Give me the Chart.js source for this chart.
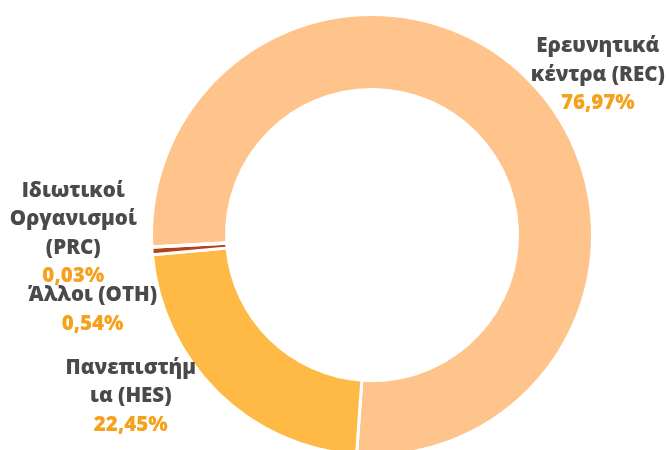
<!DOCTYPE html>
<html>
<head>
<meta charset="utf-8">
<script src="https://cdn.jsdelivr.net/npm/chart.js@4"></script>
<style>
  html, body { margin:0; padding:0; background:#fff; overflow:hidden; }
  #wrap { width:669px; height:470px; }
</style>
</head>
<body>
<div id="wrap"><canvas id="chart"></canvas></div>
<script>
// data
const categories = ['Ερευνητικά κέντρα (REC)', 'Πανεπιστήμια (HES)', 'Άλλοι (OTH)', 'Ιδιωτικοί Οργανισμοί (PRC)'];
const labelLines = [
  ['Ερευνητικά', 'κέντρα (REC)'],
  ['Πανεπιστήμ', 'ια (HES)'],
  ['Άλλοι (OTH)'],
  ['Ιδιωτικοί', 'Οργανισμοί', '(PRC)']
];
const shares = [76.97, 22.45, 0.54, 0.03];
const shareText = ['76,97%', '22,45%', '0,54%', '0,03%'];
const colors = ['#FFC48B', '#FFBA45', '#B3421F', '#E07B39'];

// label nudges (px) from the default anchor
const nudges = [[-4, 0], [-16, -2], [13, 58], [-7, -14]];

const outerLabels = {
  id: 'outerLabels',
  afterDatasetsDraw(chart){
    const ctx = chart.ctx;
    const meta = chart.getDatasetMeta(0);
    const lh = 28.5;
    ctx.save();
    ctx.font = '800 20.5px "Open Sans"';
    ctx.textAlign = 'center';
    ctx.textBaseline = 'middle';
    meta.data.forEach((arc, i) => {
      const p = arc.getProps(['x','y','startAngle','endAngle','outerRadius'], true);
      const mid = (p.startAngle + p.endAngle) / 2;
      const r = p.outerRadius + 8;
      const ax = p.x + Math.cos(mid) * r;
      const ay = p.y + Math.sin(mid) * r;
      const lines = labelLines[i].concat([shareText[i]]);
      const w = Math.max(...lines.map(t => ctx.measureText(t).width));
      const right = Math.cos(mid) >= 0;
      const cx = (right ? ax + w/2 : ax - w/2) + nudges[i][0];
      const top = ay - (lines.length - 1) * lh / 2 + nudges[i][1];
      lines.forEach((t, k) => {
        ctx.fillStyle = k === lines.length - 1 ? '#F5A11C' : '#4A4A4A';
        ctx.fillText(t, cx, top + k * lh);
      });
    });
    ctx.restore();
  }
};

new Chart(document.getElementById('chart'), {
  type: 'doughnut',
  data: {
    labels: categories,
    datasets: [{
      data: shares,
      backgroundColor: colors,
      borderColor: '#ffffff',
      borderWidth: 3,
      hoverOffset: 0
    }]
  },
  options: {
    responsive: true,
    maintainAspectRatio: false,
    animation: false,
    rotation: 266.9,
    cutout: '66%',
    layout: { padding: { left: 150, right: 75, top: 13, bottom: 13 } },
    plugins: {
      legend: { display: false },
      tooltip: { enabled: false }
    }
  },
  plugins: [outerLabels]
});
</script>
</body>
</html>
